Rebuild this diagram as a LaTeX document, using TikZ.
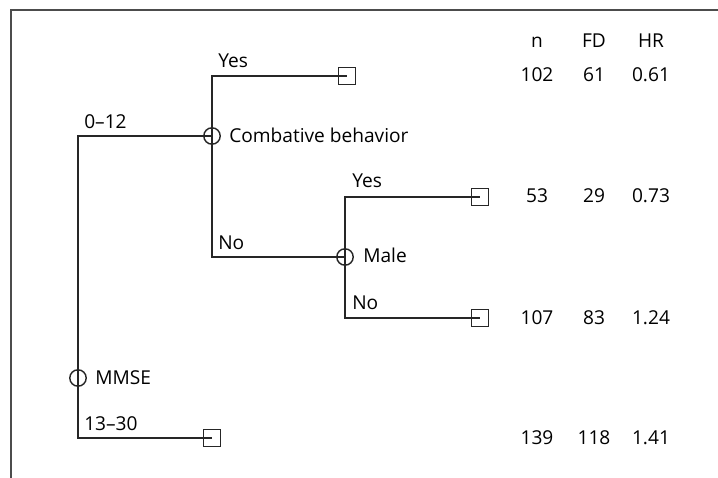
\documentclass[tikz,border=0pt]{standalone}
\usepackage{fontspec}
\setmainfont{Open Sans}
\usetikzlibrary{positioning}

\begin{document}
\begin{tikzpicture}[x=0.025cm, y=-0.025cm,
    split/.style={draw=black!85, circle, minimum size=0.41cm, inner sep=0pt, line width=1pt},
    leaf/.style={draw=black!85, rectangle, minimum size=0.42cm, inner sep=0pt, line width=1pt},
    branch/.style={draw=black!85, line width=1.2pt},
    lbl/.style={font=\fontsize{13.6}{16}\selectfont, text=black, inner sep=0pt, anchor=base west},
    num/.style={font=\fontsize{13.6}{16}\selectfont, text=black, inner sep=0pt, anchor=base},
]
\useasboundingbox (0,0) rectangle (718,478);

% Frame
\draw[gray!60!black, line width=0.9pt] (11,478) -- (11,10) -- (718,10);

% Split nodes
\node[split] (mmse) at (78, 378) {};
\node[split] (comb) at (212, 136) {};
\node[split] (male) at (345, 257) {};

% Terminal nodes
\node[leaf] (t1) at (347, 76) {};
\node[leaf] (t2) at (480, 197) {};
\node[leaf] (t3) at (480, 318) {};
\node[leaf] (t4) at (212, 438) {};

% Branches
\draw[branch] (comb.center) -| (mmse.center);
\draw[branch] (mmse.center) |- (t4.center);
\draw[branch] (comb.center) |- (t1.center);
\draw[branch] (comb.center) |- (male.center);
\draw[branch] (male.center) |- (t2.center);
\draw[branch] (male.center) |- (t3.center);

% Split labels
\node[lbl] at (95, 385) {MMSE};
\node[lbl] at (229, 143) {Combative behavior};
\node[lbl] at (363, 263) {Male};

% Branch labels
\node[lbl] at (84, 129) {0--12};
\node[lbl] at (84, 431) {13--30};
\node[lbl] at (218, 68) {Yes};
\node[lbl] at (218, 250) {No};
\node[lbl] at (352, 188) {Yes};
\node[lbl] at (352, 310) {No};

% Table header
\node[num] (hn) at (537, 48) {n};
\node[num] (hfd) at (594, 48) {FD};
\node[num] (hhr) at (651, 48) {HR};

% Table rows
\node[num] at (537, 82) {102};
\node[num] at (594, 82) {61};
\node[num] at (651, 82) {0.61};
\node[num] at (537, 203) {53};
\node[num] at (594, 203) {29};
\node[num] at (651, 203) {0.73};
\node[num] at (537, 325) {107};
\node[num] at (594, 325) {83};
\node[num] at (651, 325) {1.24};
\node[num] at (537, 445) {139};
\node[num] at (594, 445) {118};
\node[num] at (651, 445) {1.41};

\end{tikzpicture}
\end{document}
